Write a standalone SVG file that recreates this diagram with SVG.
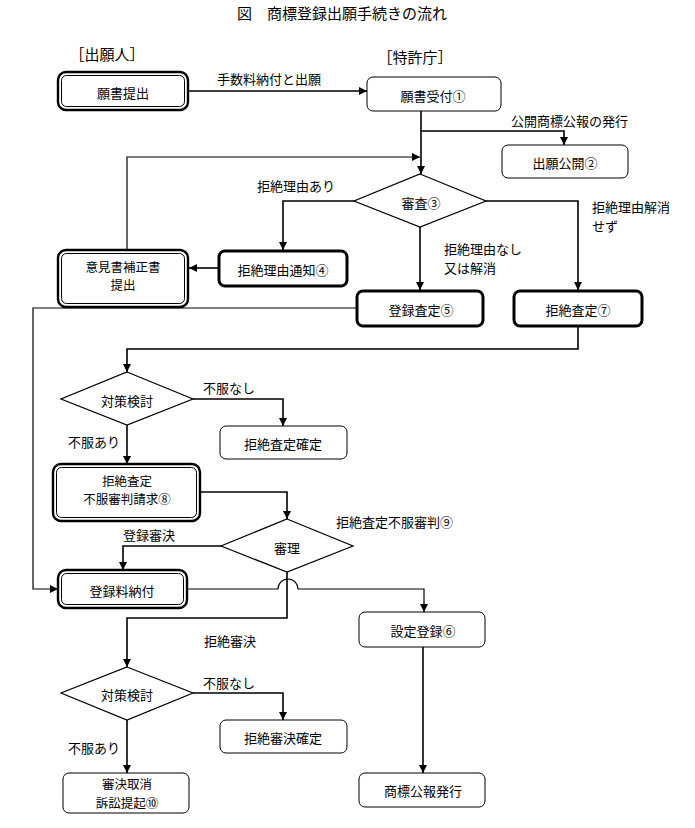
<svg xmlns="http://www.w3.org/2000/svg" width="695" height="828" viewBox="0 0 695 828">
<style>
text{font-family:"Noto Sans CJK JP","Noto Sans CJK SC",sans-serif;font-size:13px;fill:#000;dominant-baseline:central}
.c{text-anchor:middle}
.m{font-size:12.5px}
.t{font-size:15px}
.n{fill:#fff;stroke:#000;stroke-width:1}
.k{fill:#fff;stroke:#000;stroke-width:3}
.o{fill:#fff;stroke:#000;stroke-width:2.4}
.i{fill:none;stroke:#000;stroke-width:1}
.d{fill:#fff;stroke:#000;stroke-width:1.2}
.e{fill:none;stroke:#000;stroke-width:1.6;marker-end:url(#ah)}
.f{fill:none;stroke:#000;stroke-width:1.2;marker-end:url(#ah)}
</style>
<defs>
<marker id="ah" viewBox="0 0 10 10" refX="10" refY="5" markerWidth="8" markerHeight="8" markerUnits="userSpaceOnUse" orient="auto"><path d="M0,0L10,5L0,10z" fill="#000"/></marker>
</defs>
<rect width="695" height="828" fill="#fff"/>
<text class="c t" x="342" y="12">図　商標登録出願手続きの流れ</text>
<text class="c t" x="107" y="53">［出願人］</text>
<text class="c t" x="415" y="56">［特許庁］</text>

<g id="connectors">
<path class="e" d="M188,91H367"/>
<path class="e" d="M421,111V174"/>
<path class="e" d="M421,131H564V145"/>
<path class="f" d="M127,250V157H420"/>
<path class="e" d="M354,201H283V250"/>
<path class="e" d="M420,227V290"/>
<path class="e" d="M486,201H578V290"/>
<path class="e" d="M219,268H189"/>
<path class="f" d="M357,308H33V589H58"/>
<path class="e" d="M578,326V349H127V372"/>
<path class="e" d="M193,399H283V426"/>
<path class="e" d="M127,425V464"/>
<path class="e" d="M200,492H287V519"/>
<path class="e" d="M222,546H123V570"/>
<path class="e" d="M287,572V618H127V667"/>
<path class="f" d="M187,589H278A10,10 0 0 1 298,589H424V612"/>
<path class="e" d="M193,693H283V720"/>
<path class="e" d="M127,720V773"/>
<path class="e" d="M423,647V773"/>
<text x="217" y="78">手数料納付と出願</text>
<text x="511" y="120">公開商標公報の発行</text>
<text x="257" y="185">拒絶理由あり</text>
<text x="592" y="206">拒絶理由解消</text>
<text x="592" y="225">せず</text>
<text x="444" y="248">拒絶理由なし</text>
<text x="444" y="267">又は解消</text>
<text x="203" y="387">不服なし</text>
<text x="68" y="441">不服あり</text>
<text x="336" y="521">拒絶査定不服審判⑨</text>
<text x="123" y="534">登録審決</text>
<text x="204" y="640">拒絶審決</text>
<text x="203" y="682">不服なし</text>
<text x="68" y="747">不服あり</text>
</g>

<g id="n_gansho_teishutsu">
<rect class="o" x="58" y="72" width="130" height="38" rx="8"/>
<rect class="i" x="61.5" y="75.5" width="123" height="31" rx="5"/>
<text class="c" x="123" y="92">願書提出</text>
</g>
<g id="n_gansho_uketsuke">
<rect class="n" x="367" y="77" width="134" height="34" rx="6"/>
<text class="c" x="433" y="95">願書受付①</text>
</g>
<g id="n_shutsugan_kokai">
<rect class="n" x="502" y="145" width="126" height="33" rx="6"/>
<text class="c" x="565" y="162">出願公開②</text>
</g>
<g id="n_shinsa">
<polygon class="d" points="420,174 486,201 420,227 354,201"/>
<text class="c" x="421" y="202">審査③</text>
</g>
<g id="n_kyozetsu_tsuchi">
<rect class="k" x="219" y="251" width="128" height="35" rx="6"/>
<text class="c" x="283" y="269">拒絶理由通知④</text>
</g>
<g id="n_ikensho">
<rect class="o" x="58" y="250" width="130" height="57" rx="8"/>
<rect class="i" x="61.5" y="253.5" width="123" height="50" rx="5"/>
<text class="c m" x="123" y="266">意見書補正書</text>
<text class="c m" x="123" y="284.5">提出</text>
</g>
<g id="n_toroku_satei">
<rect class="k" x="357" y="291" width="126" height="35" rx="6"/>
<text class="c" x="421" y="309">登録査定⑤</text>
</g>
<g id="n_kyozetsu_satei">
<rect class="k" x="514" y="291" width="128" height="35" rx="6"/>
<text class="c" x="578" y="309">拒絶査定⑦</text>
</g>
<g id="n_taisaku1">
<polygon class="d" points="127,372 193,399 127,425 61,399"/>
<text class="c" x="127" y="400">対策検討</text>
</g>
<g id="n_satei_kakutei">
<rect class="n" x="220" y="426" width="127" height="33" rx="6"/>
<text class="c" x="283" y="443">拒絶査定確定</text>
</g>
<g id="n_fufuku_seikyu">
<rect class="o" x="53" y="464" width="147" height="57" rx="8"/>
<rect class="i" x="56.5" y="467.5" width="140" height="50" rx="5"/>
<text class="c m" x="127" y="480">拒絶査定</text>
<text class="c m" x="127" y="498.5">不服審判請求⑧</text>
</g>
<g id="n_shinri">
<polygon class="d" points="287,519 353,546 287,572 221,546"/>
<text class="c" x="287" y="547">審理</text>
</g>
<g id="n_torokuryo">
<rect class="o" x="58" y="570" width="129" height="38" rx="8"/>
<rect class="i" x="61.5" y="573.5" width="122" height="31" rx="5"/>
<text class="c" x="122" y="590">登録料納付</text>
</g>
<g id="n_settei_toroku">
<rect class="n" x="359" y="612" width="126" height="35" rx="6"/>
<text class="c" x="423" y="630">設定登録⑥</text>
</g>
<g id="n_taisaku2">
<polygon class="d" points="127,667 193,693 127,720 61,693"/>
<text class="c" x="127" y="694">対策検討</text>
</g>
<g id="n_shinketsu_kakutei">
<rect class="n" x="220" y="720" width="127" height="33" rx="6"/>
<text class="c" x="283" y="737">拒絶審決確定</text>
</g>
<g id="n_sosho">
<rect class="n" x="63" y="773" width="126" height="40" rx="6"/>
<text class="c m" x="127" y="783.5">審決取消</text>
<text class="c m" x="127" y="802">訴訟提起⑩</text>
</g>
<g id="n_koho">
<rect class="n" x="359" y="773" width="126" height="34" rx="6"/>
<text class="c" x="423" y="790">商標公報発行</text>
</g>
</svg>
